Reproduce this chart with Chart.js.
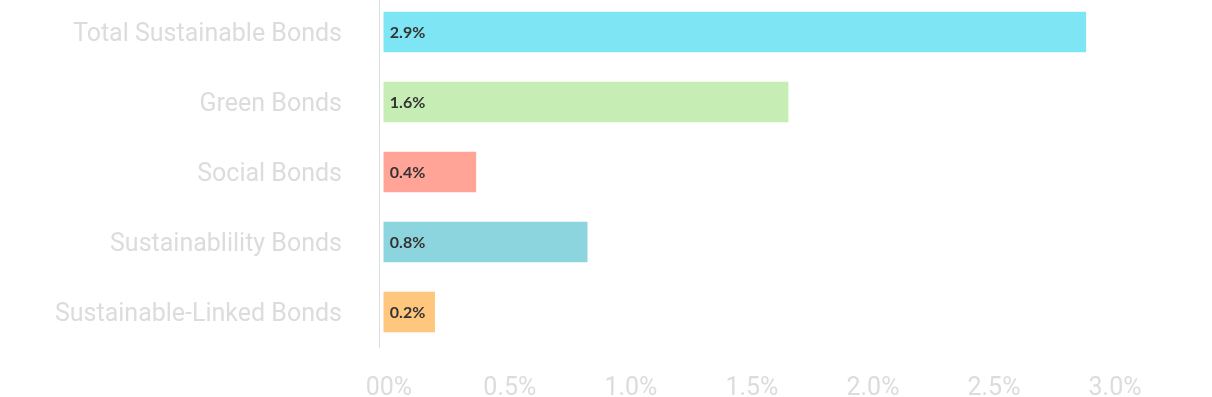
<!DOCTYPE html>
<html>
<head>
<meta charset="utf-8">
<script src="https://cdn.jsdelivr.net/npm/chart.js@4"></script>
<style>
  html, body { margin: 0; padding: 0; background: #fff; overflow: hidden; }
  #wrap { position: relative; top: -3px; width: 1212px; height: 400px; }
</style>
</head>
<body>
<div id="wrap"><canvas id="chart"></canvas></div>
<script>
// data
const categories = [
    'Total Sustainable Bonds',
    'Green Bonds',
    'Social Bonds',
    'Sustainablility Bonds',
    'Sustainable-Linked Bonds'
];
const values = [2.9, 1.67, 0.38, 0.84, 0.21];
const valueLabels = ['2.9%', '1.6%', '0.4%', '0.8%', '0.2%'];
const tickValues = [0, 0.5, 1.0, 1.5, 2.0, 2.5, 3.0];
const tickLabels = ['00%', '0.5%', '1.0%', '1.5%', '2.0%', '2.5%', '3.0%'];
const barColors = ['#7de5f3', '#c6eeb4', '#ffa497', '#8dd5de', '#ffc67d'];

// draws the value text at the start of each bar
const barLabels = {
    id: 'barLabels',
    afterDatasetsDraw(chart) {
        const ctx = chart.ctx;
        const meta = chart.getDatasetMeta(0);
        ctx.save();
        ctx.font = 'bold 16px Lato';
        ctx.fillStyle = '#333';
        ctx.textAlign = 'left';
        ctx.textBaseline = 'middle';
        meta.data.forEach((bar, i) => {
            ctx.fillText(valueLabels[i], bar.base + 6, bar.y + 1);
        });
        ctx.restore();
    }
};

new Chart(document.getElementById('chart'), {
    type: 'bar',
    data: {
        labels: categories,
        datasets: [{
            data: values,
            backgroundColor: barColors,
            borderWidth: 0,
            barThickness: 40
        }]
    },
    options: {
        indexAxis: 'y',
        responsive: true,
        maintainAspectRatio: false,
        animation: false,
        layout: {
            padding: { top: 0, right: 102, bottom: 0, left: 0 }
        },
        plugins: {
            legend: { display: false },
            tooltip: { enabled: false }
        },
        scales: {
            x: {
                min: -0.02,
                max: 3.0,
                afterBuildTicks(scale) {
                    scale.ticks = tickValues.map(v => ({ value: v }));
                },
                afterFit(scale) {
                    scale.height = 50;
                },
                grid: { display: false, drawTicks: false },
                border: { display: false },
                ticks: {
                    padding: 27,
                    labelOffset: 5,
                    color: '#dcdcdc',
                    font: { family: 'Roboto', size: 25 },
                    callback: (v, i) => tickLabels[i]
                }
            },
            y: {
                afterFit(scale) {
                    scale.width = 379;
                    scale.paddingTop = 0;
                    scale.paddingBottom = 0;
                },
                grid: { display: false, drawTicks: false },
                border: { display: true, color: '#dddddd', width: 1 },
                ticks: {
                    padding: 37,
                    labelOffset: 3,
                    color: '#dcdcdc',
                    font: { family: 'Roboto', size: 25 }
                }
            }
        }
    },
    plugins: [barLabels]
});
</script>
</body>
</html>
